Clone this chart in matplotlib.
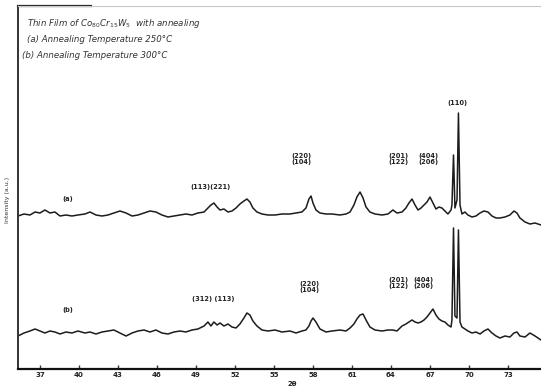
import matplotlib.pyplot as plt

# 2-theta positions (degrees)
two_theta = [35.31, 35.77, 36.23, 36.62, 37.00, 37.38, 37.77, 38.15, 38.54, 39.00,
             39.46, 39.92, 40.46, 40.85, 41.31, 41.77, 42.23, 42.69, 43.15, 43.62,
             44.08, 44.54, 45.00, 45.46, 45.92, 46.38, 46.85, 47.31, 47.77, 48.23,
             48.69, 49.15, 49.62, 49.92, 50.15, 50.38, 50.62, 50.85, 51.15, 51.46,
             51.77, 52.08, 52.38, 52.69, 52.92, 53.15, 53.38, 53.69, 54.08, 54.54,
             55.08, 55.62, 56.23, 56.69, 57.15, 57.46, 57.69, 57.85, 58.00, 58.23,
             58.54, 59.00, 59.46, 60.08, 60.54, 60.85, 61.15, 61.38, 61.62, 61.85,
             62.08, 62.38, 62.77, 63.31, 63.77, 64.15, 64.46, 64.85, 65.15, 65.38,
             65.62, 65.85, 66.08, 66.31, 66.54, 66.77, 67.00, 67.23, 67.46, 67.69,
             67.92, 68.15, 68.38, 68.62, 68.69, 68.81, 68.92, 69.08, 69.19, 69.31,
             69.46, 69.69, 69.92, 70.23, 70.54, 70.85, 71.15, 71.46, 71.77, 72.08,
             72.38, 72.77, 73.15, 73.46, 73.69, 73.92, 74.31, 74.69, 75.08, 75.54]

# (a) annealed at 250 C
intensity_a = [38, 40, 39, 42, 41, 44, 41, 42, 38, 39,
               38, 39, 40, 42, 39, 38, 39, 41, 43, 41,
               38, 39, 41, 43, 42, 39, 37, 38, 39, 40,
               39, 41, 42, 46, 49, 51, 47, 44, 45, 42,
               43, 46, 50, 53, 55, 52, 46, 42, 40, 39,
               39, 40, 40, 41, 42, 46, 55, 58, 51, 44,
               41, 40, 40, 39, 40, 42, 49, 57, 62, 56,
               47, 42, 40, 39, 40, 44, 41, 42, 46, 51,
               55, 49, 44, 46, 49, 52, 57, 51, 45, 47,
               46, 43, 40, 44, 49, 99, 46, 54, 141, 49,
               40, 42, 39, 37, 38, 41, 43, 42, 38, 36,
               36, 37, 39, 43, 41, 36, 32, 30, 31, 29]

# (b) annealed at 300 C
intensity_b = [33, 36, 38, 40, 38, 36, 38, 37, 35, 37,
               36, 38, 36, 37, 35, 37, 38, 39, 36, 33,
               36, 38, 39, 37, 39, 36, 35, 37, 38, 37,
               39, 40, 43, 47, 43, 47, 44, 46, 43, 45,
               42, 41, 45, 51, 56, 54, 48, 43, 39, 38,
               39, 37, 38, 36, 38, 39, 43, 48, 51, 47,
               40, 37, 38, 39, 38, 41, 45, 50, 54, 55,
               49, 42, 39, 38, 39, 39, 38, 43, 45, 47,
               49, 47, 46, 47, 49, 52, 56, 60, 54, 50,
               48, 47, 44, 42, 49, 141, 53, 51, 139, 47,
               42, 40, 38, 36, 37, 35, 38, 40, 36, 33,
               31, 33, 32, 36, 37, 33, 32, 36, 33, 29]

offset_a = 115

tick_vals = [37, 40, 43, 46, 49, 52, 55, 58, 61, 64, 67, 70, 73]

peak_labels_a = [("(a)", 39.15, 167), ("(113)(221)", 50.15, 179),
                 ("(220)\n(104)", 57.15, 204), ("(201)\n(122)", 64.6, 204),
                 ("(404)\n(206)", 66.85, 204), ("(110)", 69.15, 263)]
peak_labels_b = [("(b)", 39.15, 56), ("(312) (113)", 50.3, 67),
                 ("(220)\n(104)", 57.7, 76), ("(201)\n(122)", 64.6, 80),
                 ("(404)\n(206)", 66.5, 80)]

fig = plt.figure(figsize=(5.41, 3.87), dpi=100)
ax = fig.add_axes([18 / 541, 18 / 387, 1 - 18 / 541, 363 / 387])

line_col = '#1c1c1c'
ax.plot(two_theta, [v + offset_a for v in intensity_a], color=line_col, lw=1.1)
ax.plot(two_theta, intensity_b, color=line_col, lw=1.1)

for txt, x, y in peak_labels_a + peak_labels_b:
    ax.text(x, y, txt, fontsize=4.8, ha='center', va='bottom', color='#222222',
            fontweight='bold', linespacing=1.0)

ax.set_xlim(35.31, 75.54)
ax.set_ylim(0, 363)
ax.set_xticks(tick_vals)
ax.set_xticklabels([str(t) for t in tick_vals], fontsize=5, fontweight='bold', color='#222222')
ax.tick_params(axis='x', direction='in', length=3, width=1, pad=2.5, color='#333333')
ax.set_yticks([])

ax.spines['right'].set_visible(False)
ax.spines['top'].set_color('#c8c8c8')
ax.spines['left'].set_linewidth(1.4)
ax.spines['bottom'].set_linewidth(1.6)
ax.spines['left'].set_color('#333333')
ax.spines['bottom'].set_color('#111111')
# darker start of the top border as in the scan
ax.plot([0, 0.14], [1, 1], transform=ax.transAxes, color='#222222', lw=1.6, clip_on=False)

# caption block
fig.text(27 / 541, 1 - 24 / 387, "Thin Film of Co$_{80}$Cr$_{15}$W$_{5}$  with annealing",
         fontsize=6.2, style='italic', color='#333333', va='center')
fig.text(27 / 541, 1 - 40 / 387, "(a) Annealing Temperature 250°C",
         fontsize=6.2, style='italic', color='#333333', va='center')
fig.text(22 / 541, 1 - 56 / 387, "(b) Annealing Temperature 300°C",
         fontsize=6.2, style='italic', color='#333333', va='center')

fig.text(8 / 541, 1 - 200 / 387, "Intensity (a.u.)", rotation=90, fontsize=4.5,
         ha='center', va='center', color='#333333')
fig.text(292 / 541, 0.5 / 387, "2θ", fontsize=5, ha='center', va='bottom',
         fontweight='bold', color='#222222')

fig.savefig("out.png", dpi=100)
